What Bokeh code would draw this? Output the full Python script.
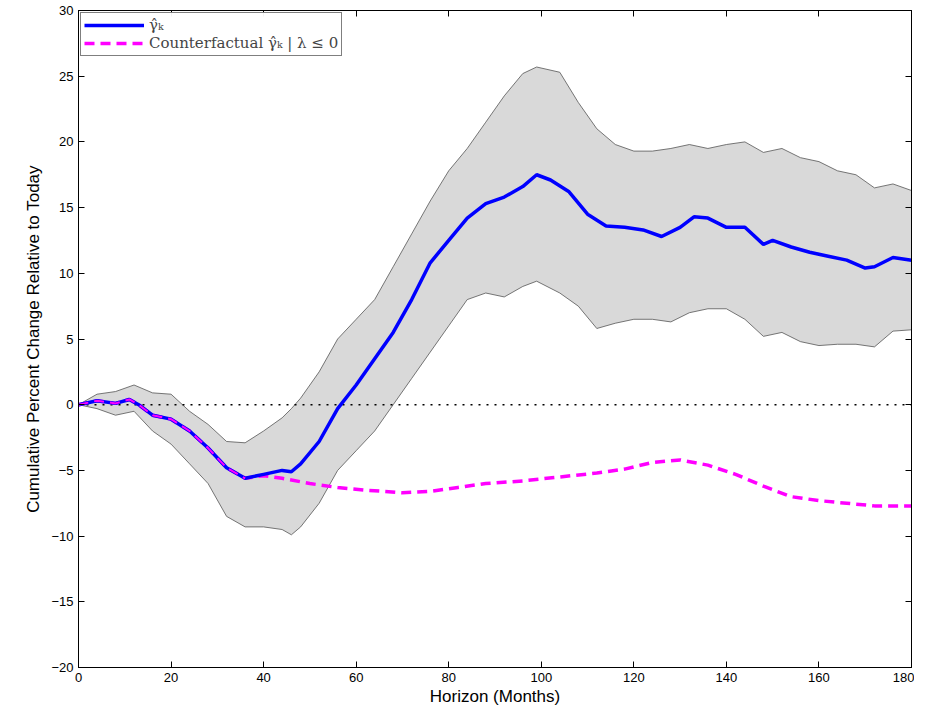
from bokeh.plotting import figure
from bokeh.models import Range1d, FixedTicker, Legend, LegendItem, LinearAxis
from bokeh.embed import file_html
from bokeh.resources import INLINE

months = [0, 4, 8, 11, 13, 16, 20, 24, 28, 32, 36, 40, 44, 46, 48, 52, 56, 60, 64, 68, 72, 76, 80, 84,
          88, 92, 96, 99, 102, 106, 110, 114, 118, 122, 126, 130, 133, 136, 140, 144, 148, 150, 154,
          158, 162, 166, 170, 172, 176, 180]
gamma = [0, 0.3, 0.1, 0.4, 0, -0.8, -1.1, -2, -3.3, -4.8, -5.6, -5.3, -5.0, -5.1, -4.5, -2.8, -0.3,
         1.5, 3.5, 5.5, 8, 10.8, 12.5, 14.2, 15.3, 15.8, 16.6, 17.5, 17.1, 16.2, 14.5, 13.6, 13.5, 13.3,
         12.8, 13.5, 14.3, 14.2, 13.5, 13.5, 12.2, 12.5, 12.0, 11.6, 11.3, 11.0, 10.4, 10.5, 11.2, 11.0]

band_x = [0, 4, 8, 12, 16, 20, 24, 28, 32, 36, 40, 44, 46, 48, 52, 56, 60, 64, 68, 72, 76, 80, 84, 88,
          92, 96, 99, 104, 108, 112, 116, 120, 124, 128, 132, 136, 140, 144, 148, 152, 156, 160, 164,
          168, 172, 176, 180]
upper = [0, 0.8, 1.0, 1.5, 0.9, 0.8, -0.5, -1.5, -2.8, -2.9, -2.0, -1.0, -0.3, 0.5, 2.5, 5.0, 6.5, 8,
         10.5, 13, 15.5, 17.8, 19.5, 21.5, 23.5, 25.2, 25.7, 25.3, 23, 21, 19.8, 19.3, 19.3, 19.5, 19.8,
         19.5, 19.8, 20, 19.2, 19.5, 18.8, 18.5, 17.8, 17.5, 16.5, 16.8, 16.3]
lower = [0, -0.3, -0.8, -0.5, -2, -3, -4.5, -6, -8.5, -9.3, -9.3, -9.5, -9.9, -9.3, -7.5, -5, -3.5, -2,
         0, 2, 4, 6, 8, 8.5, 8.2, 9, 9.4, 8.5, 7.5, 5.8, 6.2, 6.5, 6.5, 6.3, 7, 7.3, 7.3, 6.5, 5.2, 5.5,
         4.8, 4.5, 4.6, 4.6, 4.4, 5.6, 5.7]

cf_x = [0, 4, 8, 11, 13, 16, 20, 24, 28, 32, 36, 40, 44, 50, 56, 62, 70, 76, 82, 88, 96, 104, 112,
        118, 124, 130, 136, 142, 148, 154, 160, 166, 172, 180]
cf_y = [0, 0.3, 0.1, 0.4, 0, -0.8, -1.1, -2, -3.3, -4.8, -5.6, -5.4, -5.6, -6.0, -6.3, -6.5, -6.7,
        -6.6, -6.3, -6.0, -5.8, -5.5, -5.2, -4.9, -4.4, -4.2, -4.6, -5.3, -6.2, -7.0, -7.3, -7.5, -7.7, -7.7]

x_ticks = list(range(0, 181, 20))
y_ticks = list(range(-20, 31, 5))

p = figure(frame_width=833, frame_height=657, min_border_left=78, min_border_top=10,
           min_border_right=3, x_range=Range1d(0, 180), y_range=Range1d(-20, 30),
           output_backend="svg", toolbar_location=None)
p.grid.visible = False
p.outline_line_color = "black"
p.background_fill_color = "white"

p.varea(x=band_x, y1=lower, y2=upper, fill_color="#d9d9d9")
p.line(band_x, upper, color="#555555", line_width=0.8)
p.line(band_x, lower, color="#555555", line_width=0.8)
p.line([0, 180], [0, 0], color="black", line_dash="2 6", line_width=1.5)
r_cf = p.line(cf_x, cf_y, color="magenta", line_width=3.5, line_dash="10 6")
r_g = p.line(months, gamma, color="blue", line_width=3.5)
p.line(cf_x[:11], cf_y[:11], color="magenta", line_width=2, line_dash="10 6")

p.xaxis.ticker = FixedTicker(ticks=x_ticks)
p.yaxis.ticker = FixedTicker(ticks=y_ticks)
for ax in (p.xaxis, p.yaxis):
    ax.major_tick_in = 6
    ax.major_tick_out = 0
    ax.minor_tick_line_color = None
    ax.major_label_text_font = "Liberation Sans"
    ax.major_label_text_font_size = "13px"
    ax.major_label_text_color = "black"
    ax.axis_label_text_font = "Liberation Sans"
    ax.axis_label_text_font_style = "normal"
    ax.axis_label_text_font_size = "17px"
    ax.axis_label_text_color = "black"
p.xaxis.axis_label = "Horizon (Months)"
p.yaxis.axis_label = "Cumulative Percent Change Relative to Today"
p.xaxis.axis_label_standoff = 2
for side, tks in (("above", x_ticks), ("right", y_ticks)):
    a = LinearAxis(ticker=FixedTicker(ticks=tks), major_tick_in=6, major_tick_out=0,
                   minor_tick_line_color=None, major_label_standoff=0,
                   major_label_overrides={t: "" for t in tks})
    p.add_layout(a, side)

legend = Legend(items=[LegendItem(label="γ̂ₖ", renderers=[r_g]),
                       LegendItem(label="Counterfactual γ̂ₖ | λ ≤ 0", renderers=[r_cf])],
                location="top_left", label_text_font="DejaVu Serif", label_text_font_size="15px",
                border_line_color="black", margin=2, padding=3, spacing=0, glyph_width=60,
                label_height=16, glyph_height=16)
p.add_layout(legend)

open("out.html", "w").write(file_html(p, INLINE))
